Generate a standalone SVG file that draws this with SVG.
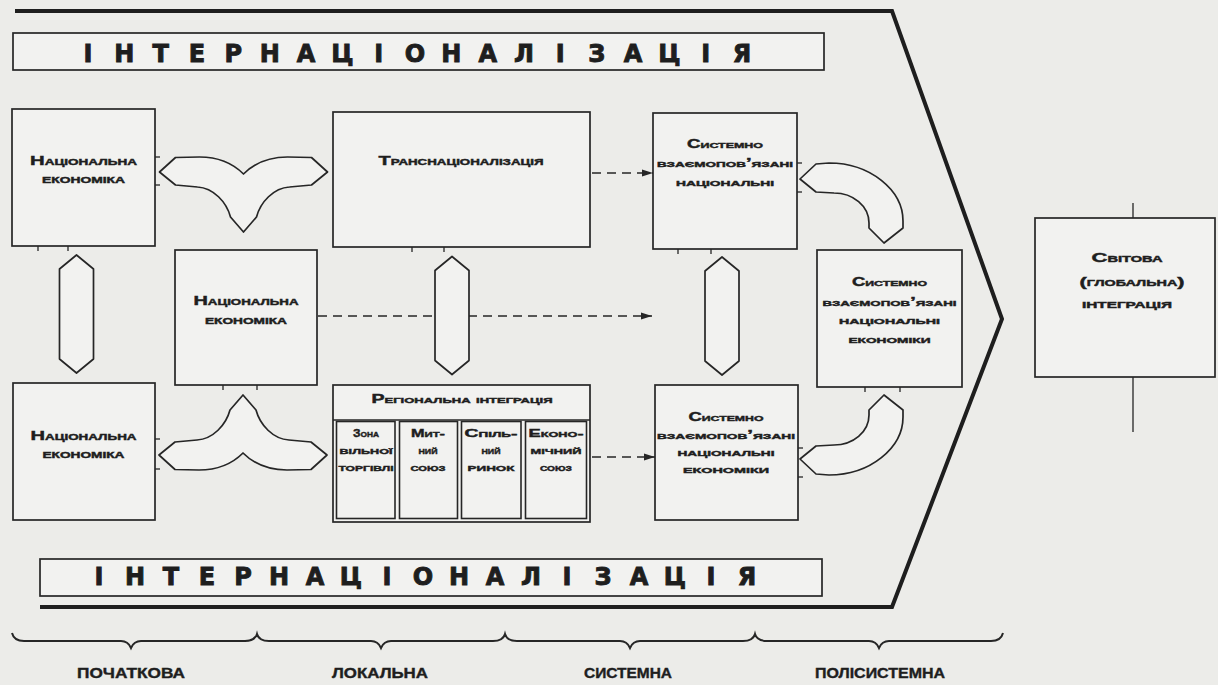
<svg xmlns="http://www.w3.org/2000/svg" width="1218" height="685" viewBox="0 0 1218 685">
<defs>
<style>
.bg{fill:#ecece9}
.box{fill:#f2f2f0;stroke:#262626;stroke-width:1.7}
.sub{fill:none;stroke:#262626;stroke-width:1.6}
.frame{fill:none;stroke:#1e1e1e;stroke-width:4;stroke-linejoin:miter}
.blk{fill:#f2f2f0;stroke:#262626;stroke-width:1.7;stroke-linejoin:round}
.dash{fill:none;stroke:#262626;stroke-width:1.6;stroke-dasharray:9 6}
.tick{stroke:#262626;stroke-width:1.3}
.t{font-family:"Liberation Sans",Arial,sans-serif;font-weight:bold;font-variant:small-caps;fill:#1e1e1e;stroke:#1e1e1e;stroke-width:0.45px;text-anchor:middle}
.n{font-size:13.5px}
.s{font-size:12px}
.r{font-size:11.5px}
.big{font-family:"DejaVu Sans","Liberation Sans",sans-serif;font-weight:bold;font-size:24px;fill:#1e1e1e;stroke:#1e1e1e;stroke-width:0.9px;text-anchor:middle}
.lbl{font-family:"Liberation Sans",Arial,sans-serif;font-weight:bold;font-size:15px;fill:#1e1e1e;stroke:#1e1e1e;stroke-width:0.4px;text-anchor:middle}
.brace{fill:none;stroke:#262626;stroke-width:2}
</style>
<marker id="ah" markerWidth="11" markerHeight="8" refX="11" refY="4" orient="auto" markerUnits="userSpaceOnUse">
<path d="M0,0.5 L11,4 L0,7.5 Z" fill="#262626"/>
</marker>
<path id="wing" d="M -84,0 L -68,-14.5 L -44,-15 C -25,-15 -10,-8 0,2 C 10,-8 25,-15 44,-15 L 68,-14.5 L 84,0 L 68,13 L 46,15 C 30,16 17,30 13,45 L 0,60 L -13,45 C -17,30 -30,16 -46,15 L -68,13 Z"/>
<path id="hexv" d="M0,-59 L17,-45 L17,45 L0,59 L-17,45 L-17,-45 Z"/>
<path id="curv" d="M 800,179 L 816,164 L 829,163 C 870,163 903,190 903,221 L 903,228 L 884,243 L 869,228 L 869,223 C 869,206 853,193 834,193 L 816,192 Z"/>
</defs>

<rect class="bg" x="0" y="0" width="1218" height="685"/>

<g id="frame">
<polyline class="frame" points="15,11 892,11 1002,319 892,607 40,607"/>
</g>

<g id="title-top">
<rect class="box" x="13" y="33" width="811" height="37"/>
<text class="big" y="62" x="88 124.3 160.7 197 233.3 269.7 306 342.3 378.7 415 451.3 487.7 524 560.3 596.7 633 669.3 705.7 742">ІНТЕРНАЦІОНАЛІЗАЦІЯ</text>
</g>

<g id="title-bottom">
<rect class="box" x="40" y="559" width="782" height="37"/>
<text class="big" y="585" x="99 135 171 207 243 279 315 351 387 423 459 495 531 567 603 639 675 711 747">ІНТЕРНАЦІОНАЛІЗАЦІЯ</text>
</g>

<g id="connectors">
<line class="dash" x1="592" y1="173" x2="653" y2="173" marker-end="url(#ah)"/>
<line class="dash" x1="318" y1="316" x2="652" y2="316" marker-end="url(#ah)"/>
<line class="dash" x1="592" y1="457" x2="655" y2="457" marker-end="url(#ah)"/>
<use href="#wing" class="blk" transform="translate(243.5,172)"/>
<use href="#wing" class="blk" transform="translate(243,455) scale(1,-1)"/>
<use href="#hexv" class="blk" transform="translate(76.5,314)"/>
<use href="#hexv" class="blk" transform="translate(452,315.5)"/>
<use href="#hexv" class="blk" transform="translate(722,316)"/>
<use href="#curv" class="blk"/>
<use href="#curv" class="blk" transform="translate(0,638) scale(1,-1)"/>
<line class="tick" x1="155" y1="157" x2="160" y2="157"/>
<line class="tick" x1="155" y1="185" x2="160" y2="185"/>
<line class="tick" x1="38" y1="246" x2="38" y2="251"/>
<line class="tick" x1="68" y1="246" x2="68" y2="251"/>
<line class="tick" x1="412" y1="247" x2="412" y2="252"/>
<line class="tick" x1="444" y1="247" x2="444" y2="252"/>
<line class="tick" x1="678" y1="249" x2="678" y2="254"/>
<line class="tick" x1="711" y1="249" x2="711" y2="254"/>
<line class="tick" x1="797" y1="163" x2="802" y2="163"/>
<line class="tick" x1="797" y1="192" x2="802" y2="192"/>
<line class="tick" x1="223" y1="385" x2="223" y2="390"/>
<line class="tick" x1="257" y1="385" x2="257" y2="390"/>
<line class="tick" x1="155" y1="439" x2="160" y2="439"/>
<line class="tick" x1="155" y1="469" x2="160" y2="469"/>
<line class="tick" x1="865" y1="387" x2="865" y2="392"/>
<line class="tick" x1="900" y1="387" x2="900" y2="392"/>
<line class="tick" x1="798" y1="448" x2="803" y2="448"/>
<line class="tick" x1="798" y1="477" x2="803" y2="477"/>
<line class="tick" x1="1133" y1="203" x2="1133" y2="218"/>
<line class="tick" x1="1133" y1="377" x2="1133" y2="432"/>
</g>

<g id="node-ne1">
<rect class="box" x="12" y="109" width="143" height="137"/>
<text class="t n" x="83.5" y="165" textLength="107" lengthAdjust="spacingAndGlyphs">Національна</text>
<text class="t n" x="83.5" y="183" textLength="83" lengthAdjust="spacingAndGlyphs">економіка</text>
</g>

<g id="node-ne2">
<rect class="box" x="175" y="250" width="142" height="135"/>
<text class="t n" x="246" y="305" textLength="105" lengthAdjust="spacingAndGlyphs">Національна</text>
<text class="t n" x="246" y="324" textLength="82" lengthAdjust="spacingAndGlyphs">економіка</text>
</g>

<g id="node-ne3">
<rect class="box" x="13" y="383" width="142" height="137"/>
<text class="t n" x="83.5" y="440" textLength="106" lengthAdjust="spacingAndGlyphs">Національна</text>
<text class="t n" x="83.5" y="458" textLength="82" lengthAdjust="spacingAndGlyphs">економіка</text>
</g>

<g id="node-trans">
<rect class="box" x="333" y="112" width="257" height="135"/>
<text class="t n" x="461" y="165" textLength="165" lengthAdjust="spacingAndGlyphs">Транснаціоналізація</text>
</g>

<g id="node-regional">
<rect class="box" x="333" y="385" width="257" height="137"/>
<line class="sub" x1="333" y1="420" x2="590" y2="420"/>
<text class="t s" x="462" y="403" textLength="181" lengthAdjust="spacingAndGlyphs">Регіональна інтеграція</text>
<rect class="sub" x="336.5" y="421.5" width="58.5" height="97"/>
<rect class="sub" x="399.5" y="421.5" width="58" height="97"/>
<rect class="sub" x="461.5" y="421.5" width="59.5" height="97"/>
<rect class="sub" x="525.5" y="421.5" width="61" height="97"/>
<text class="t r" x="366" y="437" textLength="26" lengthAdjust="spacingAndGlyphs">Зона</text>
<text class="t r" x="366" y="454" textLength="53" lengthAdjust="spacingAndGlyphs">вільної</text>
<text class="t r" x="366" y="471" textLength="55" lengthAdjust="spacingAndGlyphs">торгівлі</text>
<text class="t r" x="428" y="437" textLength="34" lengthAdjust="spacingAndGlyphs">Мит-</text>
<text class="t r" x="428" y="454" textLength="19" lengthAdjust="spacingAndGlyphs">ний</text>
<text class="t r" x="428" y="471" textLength="35" lengthAdjust="spacingAndGlyphs">союз</text>
<text class="t r" x="491" y="437" textLength="53" lengthAdjust="spacingAndGlyphs">Спіль-</text>
<text class="t r" x="491" y="454" textLength="19" lengthAdjust="spacingAndGlyphs">ний</text>
<text class="t r" x="491" y="471" textLength="47" lengthAdjust="spacingAndGlyphs">ринок</text>
<text class="t r" x="556" y="437" textLength="55" lengthAdjust="spacingAndGlyphs">Еконо-</text>
<text class="t r" x="556" y="454" textLength="51" lengthAdjust="spacingAndGlyphs">мічний</text>
<text class="t r" x="556" y="471" textLength="32" lengthAdjust="spacingAndGlyphs">союз</text>
</g>

<g id="node-sys-top">
<rect class="box" x="653" y="113" width="144" height="136"/>
<text class="t s" x="725" y="148" textLength="76" lengthAdjust="spacingAndGlyphs">Системно</text>
<text class="t s" x="725" y="167" textLength="136" lengthAdjust="spacingAndGlyphs">взаємопов’язані</text>
<text class="t s" x="725" y="186" textLength="98" lengthAdjust="spacingAndGlyphs">національні</text>
</g>

<g id="node-sys-mid">
<rect class="box" x="817" y="250" width="145" height="137"/>
<text class="t s" x="889.5" y="286" textLength="75" lengthAdjust="spacingAndGlyphs">Системно</text>
<text class="t s" x="889.5" y="306" textLength="134" lengthAdjust="spacingAndGlyphs">взаємопов’язані</text>
<text class="t s" x="889.5" y="324" textLength="101" lengthAdjust="spacingAndGlyphs">національні</text>
<text class="t s" x="889.5" y="343" textLength="82" lengthAdjust="spacingAndGlyphs">економіки</text>
</g>

<g id="node-sys-bottom">
<rect class="box" x="655" y="385" width="143" height="135"/>
<text class="t s" x="726" y="421" textLength="75" lengthAdjust="spacingAndGlyphs">Системно</text>
<text class="t s" x="726" y="439" textLength="138" lengthAdjust="spacingAndGlyphs">взаємопов’язані</text>
<text class="t s" x="726" y="456" textLength="97" lengthAdjust="spacingAndGlyphs">національні</text>
<text class="t s" x="726" y="473" textLength="86" lengthAdjust="spacingAndGlyphs">економіки</text>
</g>

<g id="node-world">
<rect class="box" x="1035" y="218" width="180" height="159"/>
<text class="t n" x="1127" y="262" textLength="71" lengthAdjust="spacingAndGlyphs">Світова</text>
<text class="t n" x="1132" y="286" textLength="105" lengthAdjust="spacingAndGlyphs">(глобальна)</text>
<text class="t n" x="1127" y="308" textLength="90" lengthAdjust="spacingAndGlyphs">інтеграція</text>
</g>

<g id="stages">
<path class="brace" d="M12,633 Q14,641 24,641 L121,641 Q128,641 131,648 Q134,641 141,641 L245,641 Q255,641 257,634 Q259,641 269,641 L371,641 Q378,641 381,648 Q384,641 391,641 L493,641 Q503,641 505,634 Q507,641 517,641 L620,641 Q627,641 630,648 Q633,641 640,641 L743,641 Q753,641 755,634 Q757,641 767,641 L869,641 Q876,641 879,648 Q882,641 889,641 L991,641 Q1001,641 1003,633"/>
<text class="lbl" x="131" y="678" textLength="108" lengthAdjust="spacingAndGlyphs">ПОЧАТКОВА</text>
<text class="lbl" x="380" y="678" textLength="96" lengthAdjust="spacingAndGlyphs">ЛОКАЛЬНА</text>
<text class="lbl" x="628" y="678" textLength="88" lengthAdjust="spacingAndGlyphs">СИСТЕМНА</text>
<text class="lbl" x="880" y="678" textLength="130" lengthAdjust="spacingAndGlyphs">ПОЛІСИСТЕМНА</text>
</g>
</svg>
